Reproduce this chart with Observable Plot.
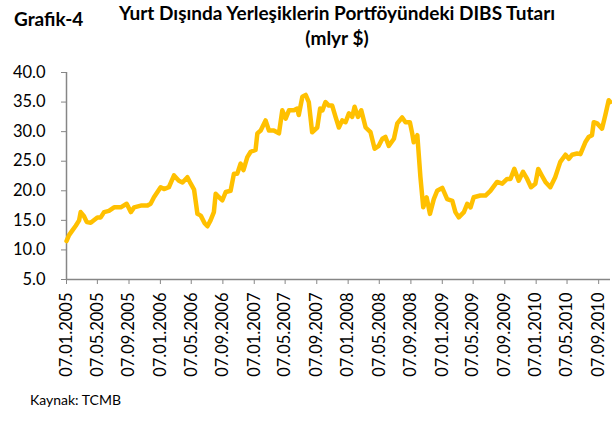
<!DOCTYPE html>
<html>
<head>
<meta charset="utf-8">
<script src="https://cdn.jsdelivr.net/npm/d3@7"></script>
<script src="https://cdn.jsdelivr.net/npm/@observablehq/plot@0.6"></script>
<style>
  html, body { margin: 0; padding: 0; background: #fff; }
  body { width: 612px; height: 425px; position: relative; font-family: Lato, "Open Sans", sans-serif; color: #000; overflow: hidden; }
  #grafik { position: absolute; left: 14px; top: 7px; font-weight: bold; font-size: 19px; }
  #title { position: absolute; left: 90px; width: 494px; top: 0px; text-align: center; font-weight: bold; font-size: 19px; line-height: 25px; }
  #chart { position: absolute; left: 0; top: 55px; }
  #caption { position: absolute; left: 30px; top: 391px; font-size: 14px; }
</style>
</head>
<body>
<div id="grafik">Grafik-4</div>
<div id="title">Yurt Dışında Yerleşiklerin Portföyündeki DIBS Tutarı<br>(mlyr $)</div>
<div id="chart"></div>
<div id="caption">Kaynak: TCMB</div>
<script>
const dates = [
  "2005-01-07","2005-01-17","2005-01-30","2005-02-12","2005-02-25","2005-03-03","2005-03-16","2005-03-27",
  "2005-04-11","2005-05-07","2005-05-20","2005-06-02","2005-06-21","2005-07-11","2005-08-06","2005-08-29",
  "2005-09-14","2005-09-27","2005-10-23","2005-11-18","2005-11-30","2005-12-13","2006-01-08","2006-01-21",
  "2006-02-09","2006-03-01","2006-03-20","2006-04-03","2006-04-22","2006-05-05","2006-05-18","2006-05-31",
  "2006-06-13","2006-06-28","2006-07-09","2006-07-21","2006-08-03","2006-08-10","2006-08-23","2006-09-05",
  "2006-09-18","2006-10-07","2006-10-20","2006-11-02","2006-11-15","2006-11-26","2006-12-11","2006-12-24",
  "2007-01-12","2007-01-19","2007-02-01","2007-02-20","2007-03-05","2007-03-24","2007-04-13","2007-04-26",
  "2007-05-09","2007-05-22","2007-06-10","2007-06-23","2007-06-29","2007-07-13","2007-07-26","2007-08-07",
  "2007-08-20","2007-09-09","2007-09-20","2007-09-29","2007-10-11","2007-10-24","2007-11-06","2007-11-19",
  "2007-12-02","2007-12-15","2007-12-28","2008-01-10","2008-01-23","2008-02-01","2008-02-14","2008-02-27",
  "2008-03-15","2008-04-03","2008-04-19","2008-05-05","2008-05-19","2008-05-31","2008-06-13","2008-07-03",
  "2008-07-16","2008-08-04","2008-08-17","2008-09-03","2008-09-12","2008-09-18","2008-10-02","2008-10-14",
  "2008-10-25","2008-11-07","2008-11-20","2008-12-05","2008-12-18","2009-01-07","2009-01-26","2009-02-15",
  "2009-02-27","2009-03-12","2009-04-01","2009-04-14","2009-04-27","2009-05-09","2009-06-04","2009-06-24",
  "2009-07-13","2009-08-08","2009-08-28","2009-09-16","2009-09-29","2009-10-14","2009-10-31","2009-11-17",
  "2009-12-03","2009-12-18","2010-01-04","2010-01-15","2010-01-30","2010-02-12","2010-03-03","2010-03-22",
  "2010-04-04","2010-04-11","2010-05-01","2010-05-14","2010-05-27","2010-06-15","2010-06-28","2010-07-17",
  "2010-07-30","2010-08-12","2010-08-19","2010-09-01","2010-09-20","2010-10-03","2010-10-16","2010-10-22"
];
const values = [
  11.5,12.5,13.3,14.1,15.0,16.4,15.7,14.7,
  14.6,15.5,15.5,16.4,16.6,17.2,17.2,17.8,
  16.4,17.2,17.5,17.5,17.8,18.9,20.6,20.3,
  20.6,22.6,21.7,21.4,22.3,21.2,20.2,16.1,
  15.8,14.5,14.0,15.0,16.4,19.5,18.9,18.4,
  19.8,20.0,22.9,22.9,24.6,23.5,25.7,26.6,
  26.9,29.7,30.2,31.9,30.2,30.2,29.7,33.6,
  32.2,33.6,33.6,33.9,32.8,35.9,36.2,35.0,
  29.9,30.7,33.9,33.6,35.0,34.4,34.4,32.5,
  30.7,31.9,31.6,33.1,32.5,34.2,32.5,33.6,
  30.7,29.9,27.1,27.6,28.8,29.1,27.6,28.8,
  31.4,32.4,31.6,31.6,29.7,28.2,29.4,22.3,
  17.2,18.9,16.1,18.6,20.0,20.5,18.6,18.3,
  16.4,15.5,16.4,17.8,17.2,18.9,19.2,19.2,
  20.0,21.5,21.2,22.0,22.0,23.7,21.7,23.2,
  22.0,20.6,21.2,23.7,22.5,21.5,20.6,22.3,
  24.0,24.9,26.1,25.4,26.1,26.3,26.2,28.2,
  29.1,29.4,31.6,31.4,30.5,32.8,35.3,35.0
];
const xTicks = [
  "2005-01-07","2005-05-07","2005-09-07","2006-01-07","2006-05-07","2006-09-07",
  "2007-01-07","2007-05-07","2007-09-07","2008-01-07","2008-05-07","2008-09-07",
  "2009-01-07","2009-05-07","2009-09-07","2010-01-07","2010-05-07","2010-09-07"
];
const yTicks = [5, 10, 15, 20, 25, 30, 35, 40];
const xStart = "2005-01-07";
const xEnd = "2010-10-23";

const data = dates.map((d, i) => ({date: new Date(d), value: values[i]}));
const axisColor = "#868686";

const chart = Plot.plot({
  width: 612,
  height: 330,
  marginTop: 17,
  marginBottom: 106,
  marginLeft: 66,
  marginRight: 2,
  style: {fontFamily: "Lato, 'Open Sans', sans-serif", fontSize: "16.5px", color: "#000", background: "#fff", overflow: "visible"},
  x: {type: "utc", domain: [new Date(xStart), new Date(xEnd)], label: null},
  y: {domain: [5, 40], label: null},
  marks: [
    Plot.axisY({ticks: yTicks, tickFormat: d => d.toFixed(1), tickSize: 5, tickPadding: 16, stroke: axisColor, fill: "#000", label: null}),
    Plot.axisX({ticks: xTicks.map(d => new Date(d)), tickFormat: d3.utcFormat("%d.%m.%Y"), tickRotate: -90, tickSize: 5, tickPadding: 8, stroke: axisColor, fill: "#000", label: null}),
    Plot.ruleX([new Date(xStart)], {stroke: axisColor, strokeWidth: 1.5}),
    Plot.ruleY([5], {stroke: axisColor, strokeWidth: 1.5}),
    Plot.line(data, {x: "date", y: "value", stroke: "#FFC000", strokeWidth: 4.5, strokeLinejoin: "round", strokeLinecap: "round"})
  ]
});
document.getElementById("chart").appendChild(chart);
</script>
</body>
</html>
